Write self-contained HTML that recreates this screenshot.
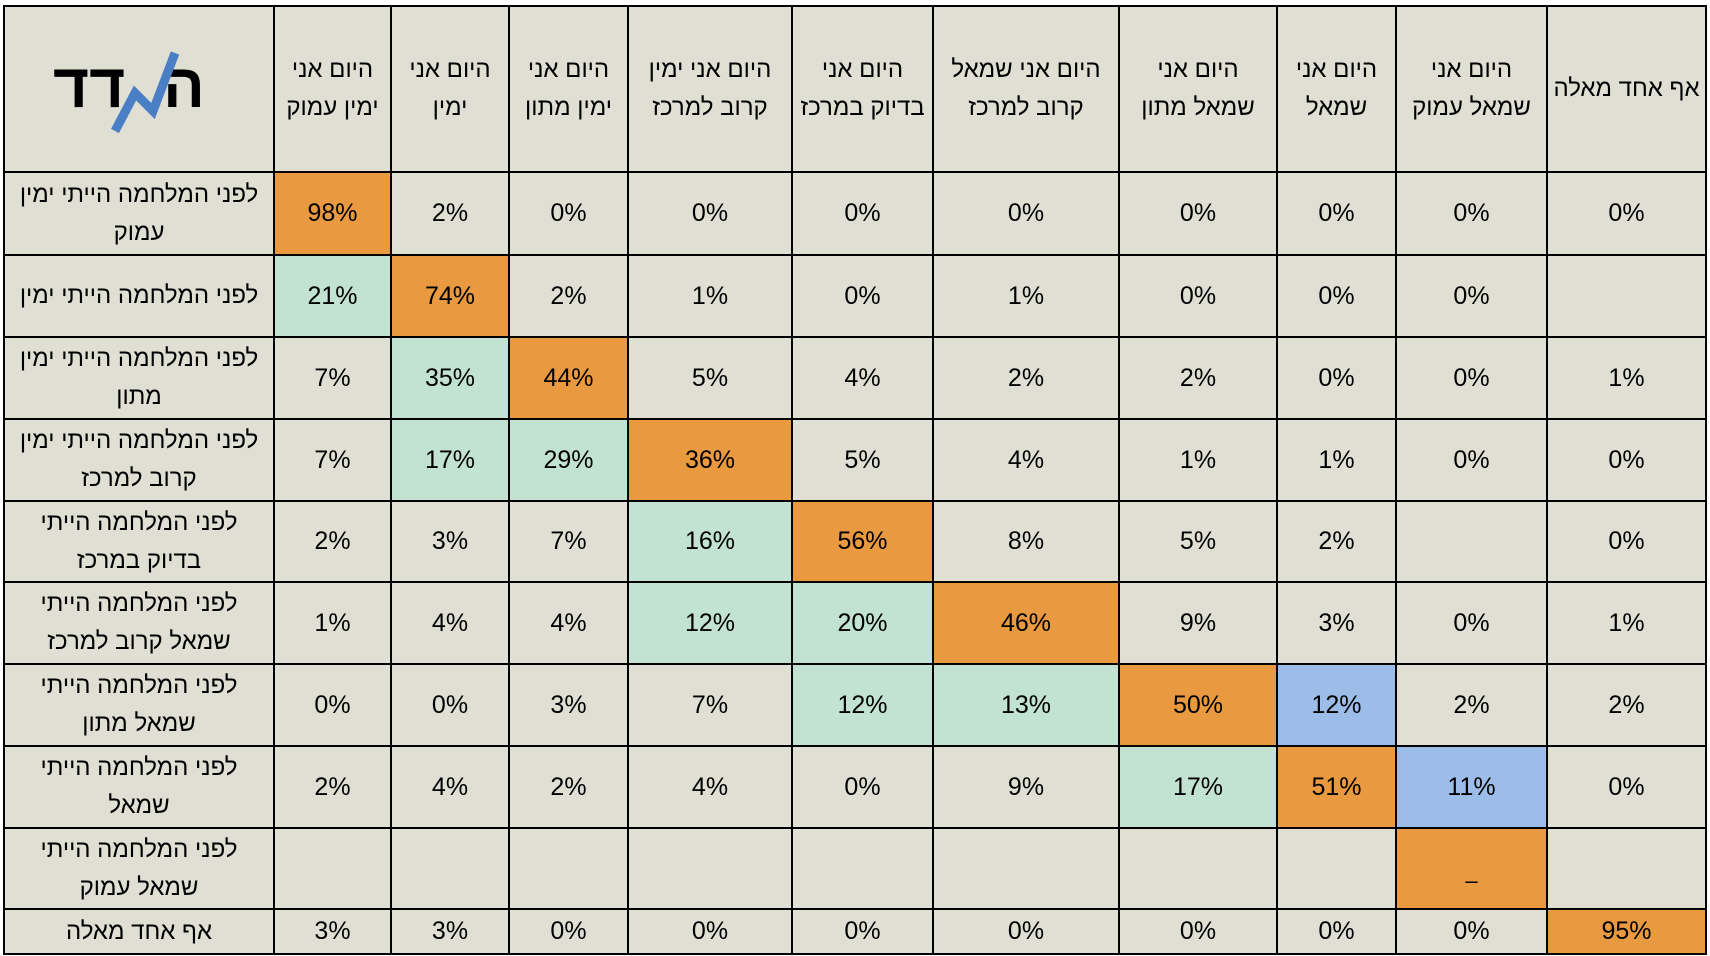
<!DOCTYPE html>
<html><head><meta charset="utf-8"><style>
html,body{margin:0;padding:0;background:#fff;width:1710px;height:956px;overflow:hidden}
table{position:absolute;left:3px;top:5px;border-collapse:collapse;table-layout:fixed;font-family:"Liberation Sans","Noto Sans CJK SC",sans-serif;color:#000}
td{border:2.5px solid #000;background:#e0dfd4;text-align:center;vertical-align:middle;padding:0;font-size:25px}
td.l,tr.h td{direction:rtl;font-size:24px;line-height:38px}
.o{background:#e9993f}.g{background:#c3e3d2}.b{background:#9dbde9}
.lg{position:absolute;font:bold 62px 'Liberation Sans','Noto Sans CJK SC',sans-serif;direction:rtl}
</style></head><body>
<table>
<colgroup><col style="width:270px"><col style="width:117px"><col style="width:118px"><col style="width:119px"><col style="width:164px"><col style="width:141px"><col style="width:186px"><col style="width:158px"><col style="width:119px"><col style="width:151px"><col style="width:159px"></colgroup>
<tr class="h" style="height:166px"><td style="position:relative">
<span class="lg" style="left:48px;top:44px">דד</span>
<span class="lg" style="left:158px;top:44px">ה</span>
<svg style="position:absolute;left:100px;top:40px" width="80" height="90"><polyline points="10,84 30,46 48,64 70,6" fill="none" stroke="#4a7fc6" stroke-width="9"/></svg>
</td><td>היום אני<br>ימין עמוק</td><td>היום אני<br>ימין</td><td>היום אני<br>ימין מתון</td><td>היום אני ימין<br>קרוב למרכז</td><td>היום אני<br>בדיוק במרכז</td><td>היום אני שמאל<br>קרוב למרכז</td><td>היום אני<br>שמאל מתון</td><td>היום אני<br>שמאל</td><td>היום אני<br>שמאל עמוק</td><td>אף אחד מאלה</td></tr>
<tr style="height:83px"><td class="l">לפני המלחמה הייתי ימין<br>עמוק</td><td class="o">98%</td><td>2%</td><td>0%</td><td>0%</td><td>0%</td><td>0%</td><td>0%</td><td>0%</td><td>0%</td><td>0%</td></tr>
<tr style="height:82px"><td class="l">לפני המלחמה הייתי ימין</td><td class="g">21%</td><td class="o">74%</td><td>2%</td><td>1%</td><td>0%</td><td>1%</td><td>0%</td><td>0%</td><td>0%</td><td></td></tr>
<tr style="height:82px"><td class="l">לפני המלחמה הייתי ימין<br>מתון</td><td>7%</td><td class="g">35%</td><td class="o">44%</td><td>5%</td><td>4%</td><td>2%</td><td>2%</td><td>0%</td><td>0%</td><td>1%</td></tr>
<tr style="height:82px"><td class="l">לפני המלחמה הייתי ימין<br>קרוב למרכז</td><td>7%</td><td class="g">17%</td><td class="g">29%</td><td class="o">36%</td><td>5%</td><td>4%</td><td>1%</td><td>1%</td><td>0%</td><td>0%</td></tr>
<tr style="height:81px"><td class="l">לפני המלחמה הייתי<br>בדיוק במרכז</td><td>2%</td><td>3%</td><td>7%</td><td class="g">16%</td><td class="o">56%</td><td>8%</td><td>5%</td><td>2%</td><td></td><td>0%</td></tr>
<tr style="height:82px"><td class="l">לפני המלחמה הייתי<br>שמאל קרוב למרכז</td><td>1%</td><td>4%</td><td>4%</td><td class="g">12%</td><td class="g">20%</td><td class="o">46%</td><td>9%</td><td>3%</td><td>0%</td><td>1%</td></tr>
<tr style="height:82px"><td class="l">לפני המלחמה הייתי<br>שמאל מתון</td><td>0%</td><td>0%</td><td>3%</td><td>7%</td><td class="g">12%</td><td class="g">13%</td><td class="o">50%</td><td class="b">12%</td><td>2%</td><td>2%</td></tr>
<tr style="height:82px"><td class="l">לפני המלחמה הייתי<br>שמאל</td><td>2%</td><td>4%</td><td>2%</td><td>4%</td><td>0%</td><td>9%</td><td class="g">17%</td><td class="o">51%</td><td class="b">11%</td><td>0%</td></tr>
<tr style="height:81px"><td class="l">לפני המלחמה הייתי<br>שמאל עמוק</td><td></td><td></td><td></td><td></td><td></td><td></td><td></td><td></td><td class="o" style="vertical-align:bottom;padding-bottom:14px;font-size:22px">–</td><td></td></tr>
<tr style="height:45px"><td class="l" style="line-height:26px">אף אחד מאלה</td><td>3%</td><td>3%</td><td>0%</td><td>0%</td><td>0%</td><td>0%</td><td>0%</td><td>0%</td><td>0%</td><td class="o">95%</td></tr>
</table>
</body></html>
